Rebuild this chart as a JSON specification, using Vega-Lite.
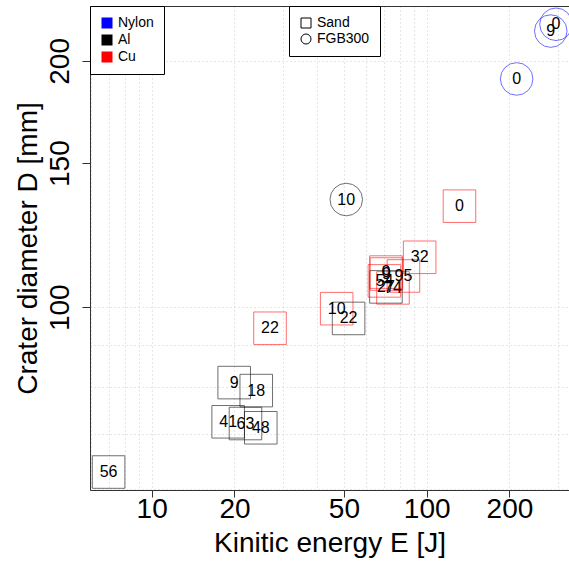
{
  "$schema": "https://vega.github.io/schema/vega-lite/v6.json",
  "width": 479,
  "height": 484,
  "autosize": {"type": "none"},
  "padding": {"left": 90, "top": 6, "right": 0, "bottom": 73},
  "background": "white",
  "config": {
    "view": {"stroke": null},
    "font": "Liberation Sans",
    "axis": {
      "domainColor": "#333333",
      "tickColor": "#333333",
      "labelColor": "black",
      "titleColor": "black",
      "labelFont": "Liberation Sans",
      "titleFont": "Liberation Sans",
      "titleFontWeight": "normal",
      "gridColor": "#cccccc",
      "gridDash": [1, 3],
      "gridWidth": 1,
      "labelOverlap": false,
      "labelFlush": false,
      "labelFontSize": 28,
      "titleFontSize": 28
    },
    "legend": {
      "labelFont": "Liberation Sans",
      "labelFontSize": 14,
      "labelColor": "black",
      "strokeColor": "black",
      "fillColor": "white",
      "padding": 10,
      "rowPadding": 2,
      "labelOffset": 4,
      "symbolSize": 121,
      "symbolOpacity": 1
    }
  },
  "data": {
    "values": [
      {"E": 6.97, "D": 62.9, "material": "Al", "target": "Sand", "label": "56"},
      {"E": 19.95, "D": 80.9, "material": "Al", "target": "Sand", "label": "9"},
      {"E": 24.0, "D": 79.1, "material": "Al", "target": "Sand", "label": "18"},
      {"E": 18.97, "D": 72.45, "material": "Al", "target": "Sand", "label": "41"},
      {"E": 21.93, "D": 72.1, "material": "Al", "target": "Sand", "label": "63"},
      {"E": 24.93, "D": 71.24, "material": "Al", "target": "Sand", "label": "48"},
      {"E": 52.0, "D": 96.9, "material": "Al", "target": "Sand", "label": "22"},
      {"E": 71.1, "D": 105.9, "material": "Al", "target": "Sand", "label": "27"},
      {"E": 51.0, "D": 135.4, "material": "Al", "target": "FGB300", "label": "10"},
      {"E": 26.93, "D": 94.26, "material": "Cu", "target": "Sand", "label": "22"},
      {"E": 47.07, "D": 99.6, "material": "Cu", "target": "Sand", "label": "10"},
      {"E": 131.6, "D": 132.9, "material": "Cu", "target": "Sand", "label": "0"},
      {"E": 94.3, "D": 115.1, "material": "Cu", "target": "Sand", "label": "32"},
      {"E": 71.1, "D": 110.4, "material": "Cu", "target": "Sand", "label": "0"},
      {"E": 71.4, "D": 109.8, "material": "Cu", "target": "Sand", "label": "9"},
      {"E": 70.2, "D": 107.7, "material": "Cu", "target": "Sand", "label": "54"},
      {"E": 82.3, "D": 109.2, "material": "Cu", "target": "Sand", "label": "95"},
      {"E": 75.4, "D": 105.6, "material": "Cu", "target": "Sand", "label": "74"},
      {"E": 212.4, "D": 190.1, "material": "Nylon", "target": "FGB300", "label": "0"},
      {"E": 282.7, "D": 217.5, "material": "Nylon", "target": "FGB300", "label": "9"},
      {"E": 295.3, "D": 221.7, "material": "Nylon", "target": "FGB300", "label": "0"}
    ]
  },
  "layer": [
    {
      "mark": {"type": "point", "filled": true, "size": 1060, "strokeWidth": 1},
      "encoding": {
        "x": {
          "field": "E",
          "type": "quantitative",
          "scale": {"type": "log", "domain": [5.965, 329.3], "nice": false},
          "axis": {
            "orient": "bottom",
            "title": "Kinitic energy E [J]",
            "values": [6, 7, 8, 9, 10, 20, 30, 40, 50, 60, 70, 80, 90, 100, 200, 300],
            "labelExpr": "indexof([10,20,50,100,200], datum.value) >= 0 ? '' + datum.value : ''",
            "tickSize": 7,
            "tickOpacity": {"condition": {"test": "indexof([10,20,50,100,200], datum.value) >= 0", "value": 1}, "value": 0},
            "labelPadding": -2,
            "titlePadding": 6
          }
        },
        "y": {
          "field": "D",
          "type": "quantitative",
          "scale": {"type": "log", "domain": [59.8, 233.4], "nice": false},
          "axis": {
            "title": "Crater diameter D [mm]",
            "values": [60, 70, 80, 90, 100, 150, 200],
            "labelExpr": "indexof([100,150,200], datum.value) >= 0 ? '' + datum.value : ''",
            "tickSize": 8,
            "tickOpacity": {"condition": {"test": "indexof([100,150,200], datum.value) >= 0", "value": 1}, "value": 0},
            "gridOpacity": {"condition": {"test": "datum.value == 150", "value": 0}, "value": 1},
            "labelAngle": -90,
            "labelAlign": "center",
            "labelBaseline": "alphabetic",
            "labelPadding": 14,
            "titlePadding": 4
          }
        },
        "fill": {
          "field": "material",
          "type": "nominal",
          "scale": {"domain": ["Nylon", "Al", "Cu"], "range": ["#0000ff", "#000000", "#ff0000"]},
          "legend": {
            "title": null,
            "orient": "none",
            "legendX": 0,
            "legendY": 0,
            "symbolType": "square",
            "symbolStrokeWidth": 0,
            "symbolStrokeColor": "transparent",
            "rowPadding": 3
          }
        },
        "stroke": {
          "field": "material",
          "type": "nominal",
          "scale": {"domain": ["Nylon", "Al", "Cu"], "range": ["#0000ff", "#000000", "#ff0000"]},
          "legend": null
        },
        "fillOpacity": {"value": 0},
        "strokeOpacity": {"value": 0.8},
        "shape": {
          "field": "target",
          "type": "nominal",
          "scale": {"domain": ["Sand", "FGB300"], "range": ["square", "circle"]},
          "legend": {
            "title": null,
            "orient": "none",
            "legendX": 199,
            "legendY": 0,
            "symbolSize": 100,
            "symbolStrokeColor": "black",
            "symbolFillColor": "transparent",
            "symbolStrokeWidth": 1,
            "rowPadding": 2
          }
        }
      }
    },
    {
      "mark": {"type": "text", "fontSize": 16, "color": "black", "font": "Liberation Sans", "align": "center", "baseline": "middle"},
      "encoding": {
        "x": {
          "field": "E",
          "type": "quantitative",
          "axis": {"orient": "top", "labels": false, "ticks": false, "grid": false, "domain": true, "title": null}
        },
        "y": {"field": "D", "type": "quantitative"},
        "text": {"field": "label"}
      }
    }
  ],
  "resolve": {"axis": {"x": "independent"}}
}
